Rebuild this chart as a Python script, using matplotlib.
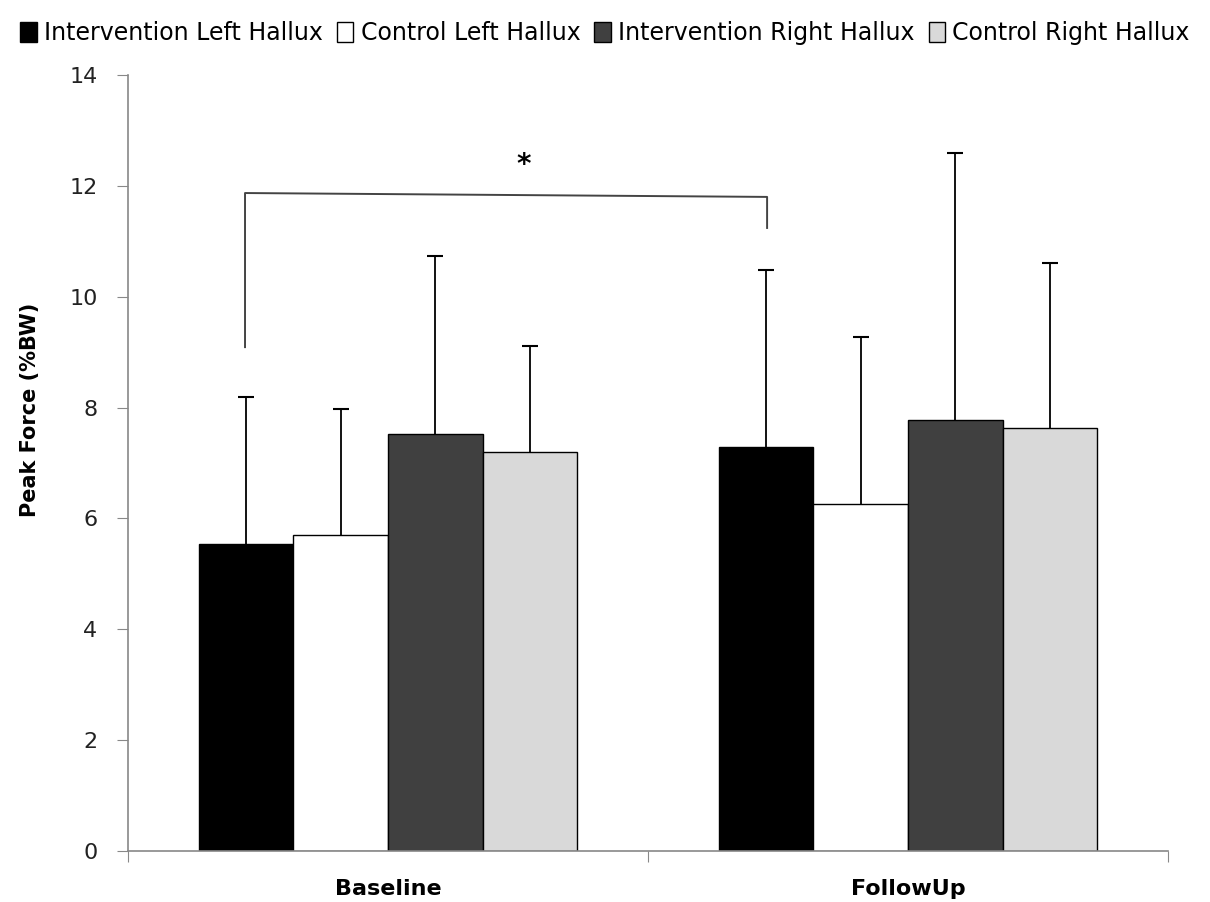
import matplotlib
matplotlib.use("Agg")
import matplotlib.pyplot as plt
import numpy as np
from matplotlib.patches import Patch

categories = ["Baseline", "FollowUp"]
series_names = ["Intervention Left Hallux", "Control Left Hallux",
                "Intervention Right Hallux", "Control Right Hallux"]
int_left = [5.54, 7.29]
ctrl_left = [5.70, 6.26]
int_right = [7.52, 7.78]
ctrl_right = [7.20, 7.63]
int_left_sd = [2.65, 3.19]
ctrl_left_sd = [2.27, 3.01]
int_right_sd = [3.21, 4.81]
ctrl_right_sd = [1.91, 2.98]
yticks = [0, 2, 4, 6, 8, 10, 12, 14]

colors = ["#000000", "#ffffff", "#404040", "#d9d9d9"]
values = [int_left, ctrl_left, int_right, ctrl_right]
errors = [int_left_sd, ctrl_left_sd, int_right_sd, ctrl_right_sd]

fig = plt.figure(figsize=(12.1, 9.02), dpi=100)
ax = fig.add_axes([0.1058, 0.0565, 0.8595, 0.8604])

x = np.arange(len(categories))
w = 1 / 5.5
offsets = (np.arange(4) - 1.5) * w
for i in range(4):
    xs = x + offsets[i]
    v = np.array(values[i])
    e = np.array(errors[i])
    ax.bar(xs, v, width=w, color=colors[i],
           edgecolor="#000000", linewidth=1.0, zorder=2)
    ax.errorbar(xs, v, yerr=[np.zeros(len(categories)), e],
                fmt="none", ecolor="#000000", elinewidth=1.3,
                capsize=0, zorder=3)
    ax.plot(xs, v + e, linestyle="none", marker="_", markersize=11,
            markeredgewidth=1.5, color="#000000", zorder=3)

ax.set_xlim(-0.5, 1.5)
ax.set_ylim(0, 14)
ax.set_yticks(yticks)
ax.set_yticklabels([str(t) for t in yticks], fontsize=16, color="#222222")
ax.set_xticks([-0.5, 0.5, 1.5])
ax.set_xticklabels([])
ax.set_xticks(x, minor=True)
ax.set_xticklabels(categories, minor=True, fontsize=16, fontweight="bold")
ax.tick_params(axis="x", which="minor", length=0, pad=20)
ax.tick_params(axis="x", which="major", length=8, color="#888888", direction="out")
ax.tick_params(axis="y", length=8, color="#888888", direction="out", pad=14)
for s in ["top", "right"]:
    ax.spines[s].set_visible(False)
for s in ["left", "bottom"]:
    ax.spines[s].set_color("#888888")
    ax.spines[s].set_linewidth(1.2)

ax.set_ylabel("Peak Force (%BW)", fontsize=15, fontweight="bold", labelpad=18)
ax.yaxis.set_label_coords(-0.085, 0.568)

# significance bracket
ax.plot([-0.275, -0.275, 0.729, 0.729], [9.09, 11.87, 11.80, 11.24],
        color="#444444", linewidth=1.4, zorder=4)
ax.text(0.26, 12.38, "*", ha="center", va="center", fontsize=20, fontweight="bold")

handles = [Patch(facecolor=c, edgecolor="#000000", linewidth=1.0) for c in colors]
fam = ["Liberation Sans Narrow", "DejaVu Sans"]
fig.legend(handles, series_names, loc="upper center", bbox_to_anchor=(0.5, 1.0),
           ncol=4, frameon=False, prop={"family": fam, "size": 17},
           handlelength=0.7, handleheight=0.9, handletextpad=0.3,
           columnspacing=0.6)

fig.savefig("out.png", dpi=100)
